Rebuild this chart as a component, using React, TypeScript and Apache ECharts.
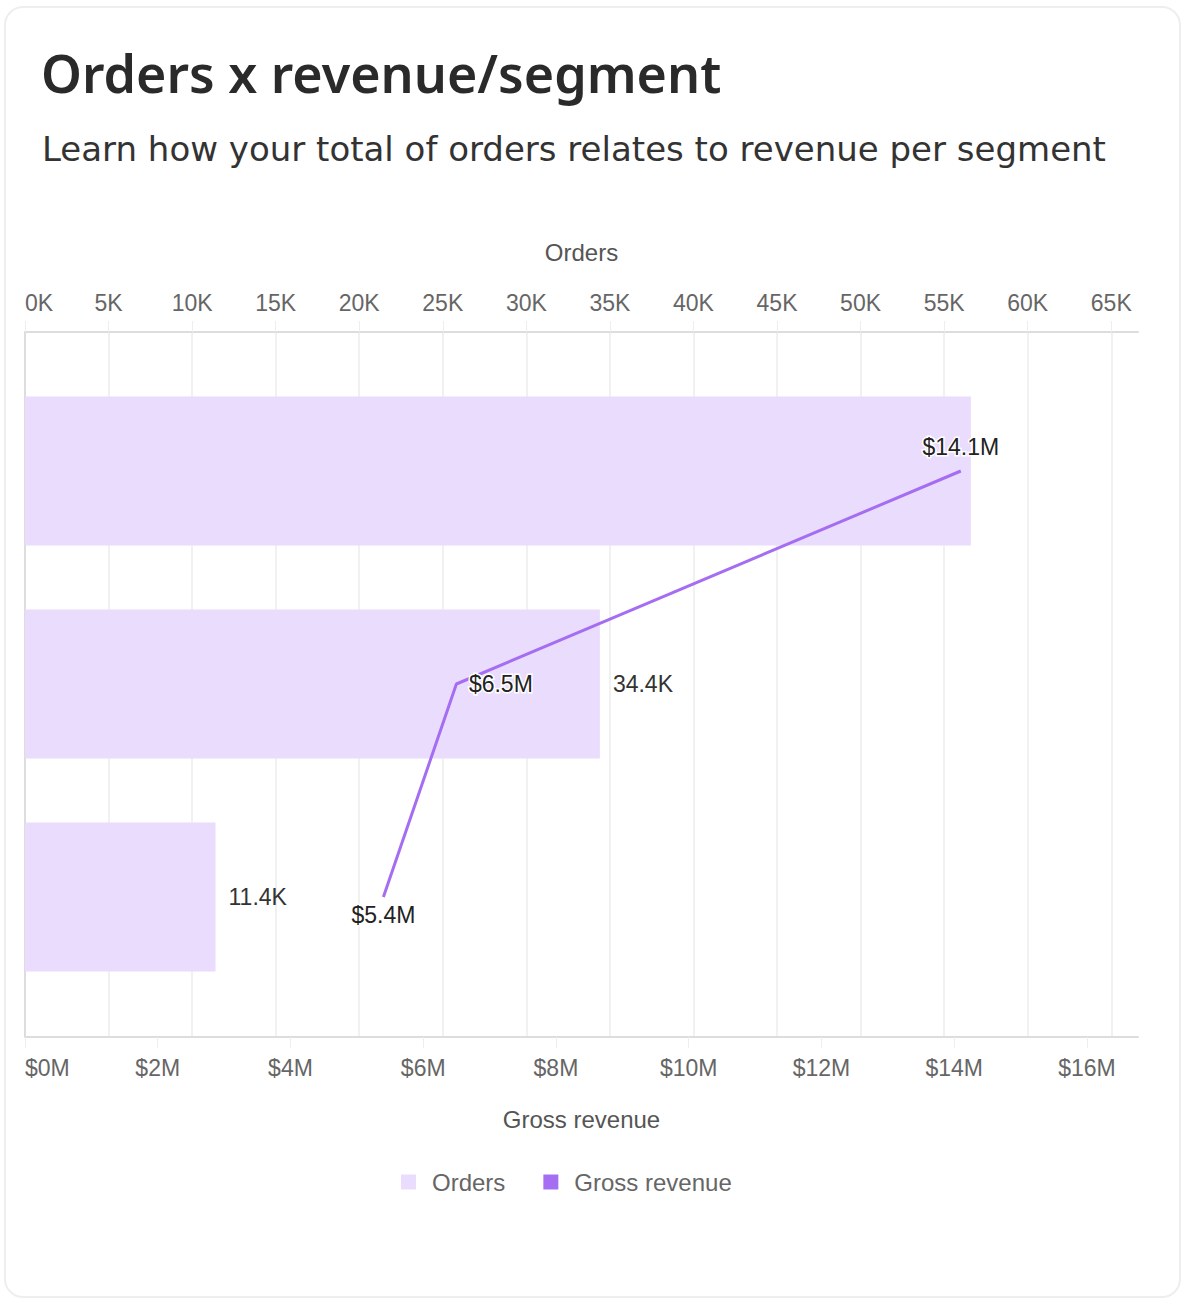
import React, { useEffect, useRef } from "react";
import * as echarts from "echarts";

const TITLE = "Orders x revenue/segment";
const SUBTITLE = "Learn how your total of orders relates to revenue per segment";
const SEGMENTS = ["Segment A", "Segment B", "Segment C"];
const ORDERS = [56600, 34400, 11400];
const ORDER_LABEL_SHOWN = [false, true, true];
const REVENUE_M = [14.1, 6.5, 5.4];
const REVENUE_LABEL_POS = ["top", "right", "bottom"];
const REVENUE_LABEL_DIST = [12, 12, 6];
const ORDER_TICKS = [0, 5000, 10000, 15000, 20000, 25000, 30000, 35000, 40000, 45000, 50000, 55000, 60000, 65000];
const REVENUE_TICKS = [0, 2, 4, 6, 8, 10, 12, 14, 16];
const ORDERS_MAX = 66600;
const REVENUE_MAX = 16.77;

const LABEL_FONT = "'Liberation Sans', Arial, sans-serif";
const TITLE_FONT = "'Noto Sans', 'Open Sans', sans-serif";
const SUB_FONT = "'DejaVu Sans', 'Noto Sans', sans-serif";

export default function App() {
  const ref = useRef<HTMLDivElement>(null);
  useEffect(() => {
    if (!ref.current) return;
    const chart = echarts.init(ref.current, null, { renderer: "svg" });
    const gridLeft = 25;
    const gridWidth = 1113;
    const frameTop = 332;
    const frameHeight = 705;
    const band = 213;
    const barTop = 471 - band / 2;

    const tickStyle = { show: true, length: 11, lineStyle: { color: "#eeeeee", width: 1 } };

    chart.setOption({
      animation: false,
      backgroundColor: "#ffffff",
      title: [
        {
          text: TITLE,
          left: 36,
          top: 36,
          textStyle: { fontFamily: TITLE_FONT, fontSize: 52, fontWeight: 600, color: "#2a2a2a", lineHeight: 62 },
        },
        {
          text: SUBTITLE,
          left: 37,
          top: 123,
          textStyle: { fontFamily: SUB_FONT, fontSize: 34, fontWeight: 400, color: "#333333", lineHeight: 42 },
        },
      ],
      graphic: [
        {
          type: "rect",
          shape: { x: 5, y: 7, width: 1175, height: 1290, r: 18 },
          style: { fill: "none", stroke: "#eeeeee", lineWidth: 2 },
          silent: true,
          z: -10,
        },
      ],
      legend: {
        top: 1165,
        left: 396,
        itemWidth: 15,
        itemHeight: 15,
        itemGap: 38,
        icon: "rect",
        textStyle: { fontFamily: LABEL_FONT, fontSize: 24, color: "#666666", padding: [0, 0, 0, 11] },
        data: [
          { name: "Orders", itemStyle: { color: "#eadcfd", opacity: 1 } },
          { name: "Gross revenue", itemStyle: { color: "#a56ef2", opacity: 1 } },
        ],
      },
      grid: [
        { left: gridLeft, width: gridWidth, top: frameTop, height: frameHeight, containLabel: false },
        { left: gridLeft, width: gridWidth, top: barTop, height: band * 3, containLabel: false },
      ],
      xAxis: [
        {
          type: "value",
          gridIndex: 0,
          position: "top",
          min: 0,
          max: ORDERS_MAX,
          interval: 5000,
          name: "Orders",
          nameLocation: "middle",
          nameGap: 68,
          nameTextStyle: { fontFamily: LABEL_FONT, fontSize: 24, color: "#555555" },
          axisLine: { show: true, onZero: false, lineStyle: { color: "#dddddd", width: 2 } },
          axisTick: { ...tickStyle, customValues: ORDER_TICKS },
          splitLine: { show: true, lineStyle: { color: "#f1f1f1", width: 2 } },
          axisLabel: {
            customValues: ORDER_TICKS,
            margin: 18,
            fontFamily: LABEL_FONT,
            fontSize: 23,
            color: "#666666",
            alignMinLabel: "left",
            formatter: (v: number) => `${Math.round(v / 1000)}K`,
          },
        },
        {
          type: "value",
          gridIndex: 0,
          position: "bottom",
          min: 0,
          max: REVENUE_MAX,
          interval: 2,
          name: "Gross revenue",
          nameLocation: "middle",
          nameGap: 70,
          nameTextStyle: { fontFamily: LABEL_FONT, fontSize: 24, color: "#555555" },
          axisLine: { show: true, onZero: false, lineStyle: { color: "#dddddd", width: 2 } },
          axisTick: { ...tickStyle, customValues: REVENUE_TICKS },
          splitLine: { show: false },
          axisLabel: {
            customValues: REVENUE_TICKS,
            margin: 19,
            fontFamily: LABEL_FONT,
            fontSize: 23,
            color: "#666666",
            alignMinLabel: "left",
            formatter: (v: number) => `$${Math.round(v)}M`,
          },
        },
        { type: "value", gridIndex: 1, min: 0, max: ORDERS_MAX, show: false },
        { type: "value", gridIndex: 1, min: 0, max: REVENUE_MAX, show: false },
      ],
      yAxis: [
        {
          type: "value",
          gridIndex: 0,
          min: 0,
          max: 1,
          axisLine: { show: true, onZero: false, lineStyle: { color: "#dddddd", width: 2 } },
          axisTick: { show: false },
          axisLabel: { show: false },
          splitLine: { show: false },
        },
        {
          type: "category",
          gridIndex: 1,
          inverse: true,
          data: SEGMENTS,
          show: false,
        },
      ],
      series: [
        {
          name: "Orders",
          type: "bar",
          xAxisIndex: 2,
          yAxisIndex: 1,
          barCategoryGap: "30%",
          itemStyle: { color: "#eadcfd" },
          data: ORDERS.map((v, i) => ({
            value: v,
            label: { show: ORDER_LABEL_SHOWN[i] },
          })),
          label: {
            position: "right",
            distance: 13,
            fontFamily: LABEL_FONT,
            fontSize: 23,
            color: "#333333",
            formatter: (p: any) => `${(p.value / 1000).toFixed(1)}K`,
          },
          z: 2,
        },
        {
          name: "Gross revenue",
          type: "line",
          xAxisIndex: 3,
          yAxisIndex: 1,
          symbol: "circle",
          symbolSize: 1,
          showSymbol: true,
          color: "#a56ef2",
          lineStyle: { color: "#a56ef2", width: 3 },
          itemStyle: { color: "rgba(165,110,242,0)", borderWidth: 0 },
          data: REVENUE_M.map((v, i) => ({
            value: v,
            label: { position: REVENUE_LABEL_POS[i], distance: REVENUE_LABEL_DIST[i] },
          })),
          label: {
            show: true,
            fontFamily: LABEL_FONT,
            fontSize: 23,
            color: "#222222",
            textBorderColor: "#ffffff",
            textBorderWidth: 3,
            formatter: (p: any) => `$${p.value}M`,
          },
          z: 5,
        },
      ],
    });
    return () => chart.dispose();
  }, []);
  return (
    <div style={{ position: "absolute", left: 0, top: 0, width: 1186, height: 1304, background: "#fff" }}>
      <div ref={ref} style={{ width: 1186, height: 1304 }} />
    </div>
  );
}
